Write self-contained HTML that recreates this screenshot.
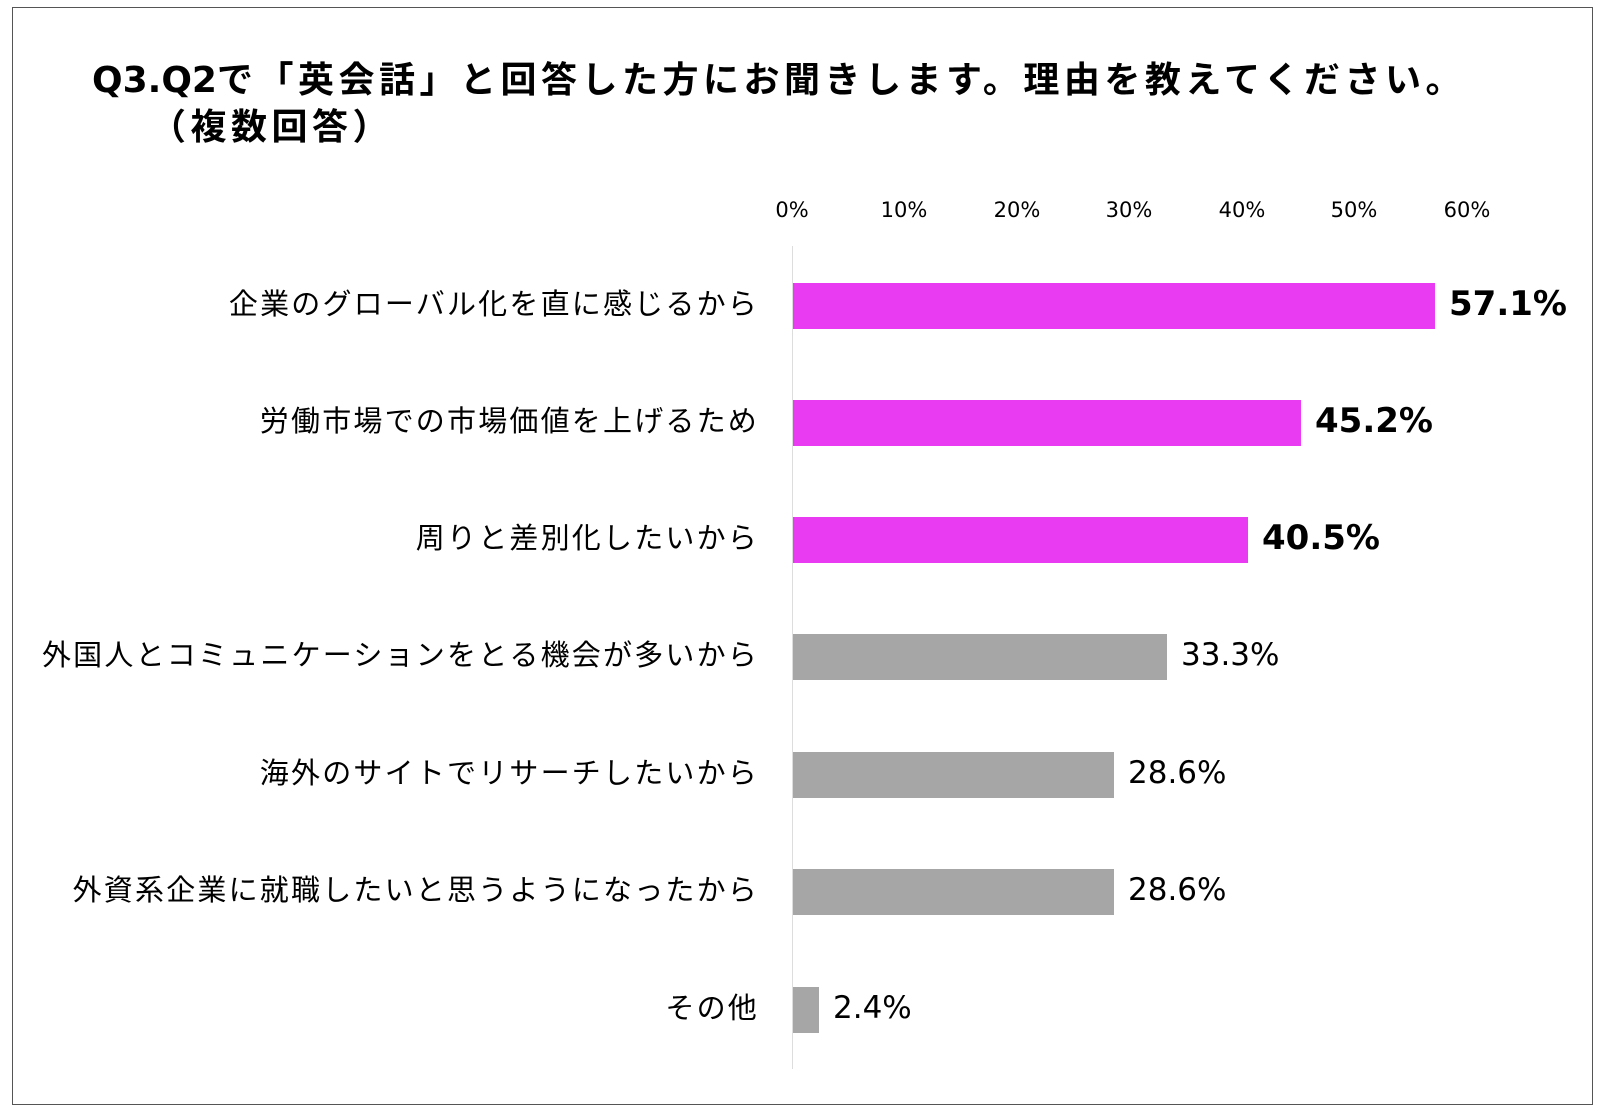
<!DOCTYPE html><html><head><meta charset="utf-8"><style>
body{margin:0;background:#fff;width:1600px;height:1116px;overflow:hidden;font-family:"DejaVu Sans","Noto Sans CJK JP",sans-serif;}
.b{position:absolute;left:12px;top:7px;width:1581px;height:1098px;border:1.5px solid #555;box-sizing:border-box}
.t{position:absolute;font-weight:bold;font-size:36px;color:#000;white-space:nowrap;letter-spacing:4.5px}
.tk{position:absolute;top:198px;font-size:21px;width:80px;text-align:center;margin-left:-40px}
.lab{position:absolute;right:841px;font-size:29px;white-space:nowrap;text-align:right;letter-spacing:2.2px;font-family:"Noto Sans CJK JP",sans-serif}
.bar{position:absolute;left:793px;height:46px}
.v{position:absolute;white-space:nowrap;font-size:31px}
.v.bd{font-weight:bold;font-size:34px}
</style></head><body>
<div class="b"></div>
<div class="t" style="left:92px;top:51px"><span style="letter-spacing:0">Q3.Q2</span>で「英会話」と回答した方にお聞きします。理由を教えてください。</div>
<div class="t" style="left:150px;top:98px">（複数回答）</div>
<div style="position:absolute;left:792px;top:246px;width:1px;height:823px;background:#ddd"></div>
<div class="tk" style="left:792px">0%</div><div class="tk" style="left:904px">10%</div><div class="tk" style="left:1017px">20%</div><div class="tk" style="left:1129px">30%</div><div class="tk" style="left:1242px">40%</div><div class="tk" style="left:1354px">50%</div><div class="tk" style="left:1467px">60%</div>
<div class="lab" style="top:281px">企業のグローバル化を直に感じるから</div>
<div class="bar" style="top:283px;width:642px;background:#e93cf2"></div><div class="v bd" style="left:1449px;top:284px">57.1%</div>
<div class="lab" style="top:398px">労働市場での市場価値を上げるため</div>
<div class="bar" style="top:400px;width:508px;background:#e93cf2"></div><div class="v bd" style="left:1315px;top:401px">45.2%</div>
<div class="lab" style="top:515px">周りと差別化したいから</div>
<div class="bar" style="top:517px;width:455px;background:#e93cf2"></div><div class="v bd" style="left:1262px;top:518px">40.5%</div>
<div class="lab" style="top:632px">外国人とコミュニケーションをとる機会が多いから</div>
<div class="bar" style="top:634px;width:374px;background:#a6a6a6"></div><div class="v" style="left:1181px;top:637px">33.3%</div>
<div class="lab" style="top:750px">海外のサイトでリサーチしたいから</div>
<div class="bar" style="top:752px;width:321px;background:#a6a6a6"></div><div class="v" style="left:1128px;top:755px">28.6%</div>
<div class="lab" style="top:867px">外資系企業に就職したいと思うようになったから</div>
<div class="bar" style="top:869px;width:321px;background:#a6a6a6"></div><div class="v" style="left:1128px;top:872px">28.6%</div>
<div class="lab" style="top:985px">その他</div>
<div class="bar" style="top:987px;width:26px;background:#a6a6a6"></div><div class="v" style="left:833px;top:990px">2.4%</div>
</body></html>
